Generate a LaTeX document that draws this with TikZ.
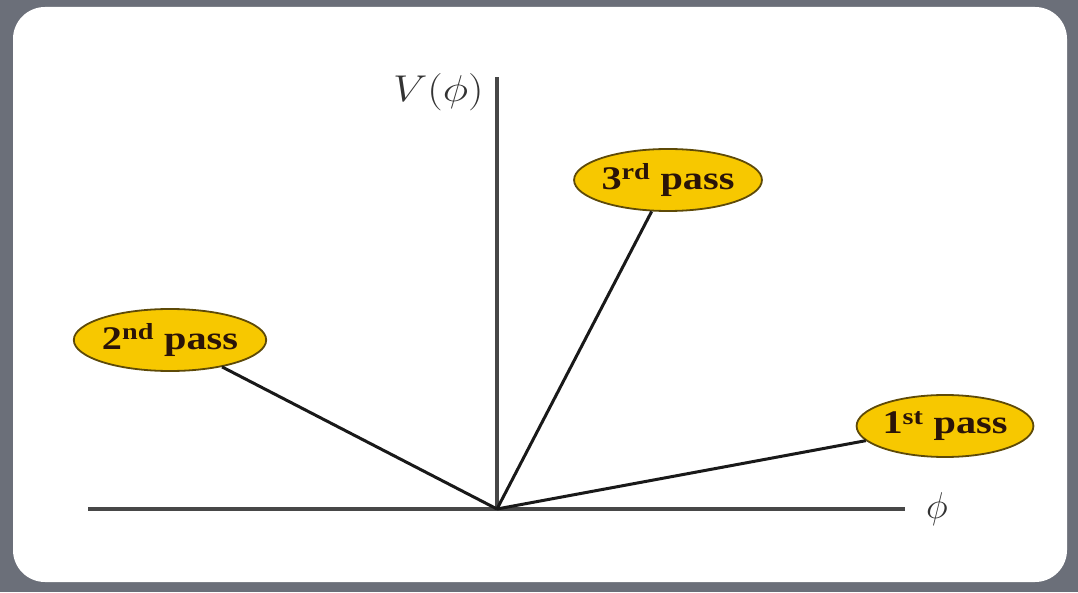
\documentclass[tikz,border=0pt]{standalone}
\usepackage{fontspec}
\setmainfont{Liberation Serif}
\usetikzlibrary{shapes.geometric}
\definecolor{bggray}{HTML}{6B6F79}
\definecolor{passfill}{HTML}{F7C800}
\definecolor{passedge}{HTML}{5E4A08}
\definecolor{passtext}{HTML}{2A1408}
\tikzset{
  pass/.style={ellipse, draw=passedge, line width=1.8pt, fill=passfill, inner sep=0pt,
    minimum width=156pt, minimum height=62pt, text=passtext,
    font=\fontsize{33}{35}\selectfont\bfseries},
  axis/.style={line width=3.4pt, draw=black!72},
  conn/.style={line width=3pt, draw=black!90},
}
\newcommand{\passlabel}[2]{\scalebox{1.22}[1]{#1\textsuperscript{#2} pass}}
\begin{document}
\begin{tikzpicture}[x=1pt,y=1pt]
\fill[bggray] (0,0) rectangle (1078,592);
\useasboundingbox (0,0) rectangle (1078,592);
\fill[white, rounded corners=32pt] (13,10) rectangle (1067,585);
\coordinate (O) at (497,83);
\coordinate (xl) at (88,83);
\coordinate (xr) at (905,83);
\coordinate (yt) at (497,515);
\draw[axis] (xl) -- (xr);
\draw[axis] (O) -- (yt);
\node[anchor=east, font=\fontsize{24.88}{28}\selectfont, text=black!80] (vlab) at (487,500) {\scalebox{1.75}[1.5]{$V(\phi)$}};
\node[font=\fontsize{24.88}{28}\selectfont, text=black!80] (plab) at (937,83) {\scalebox{1.5}{$\phi$}};
\node[pass] (p3) at (668,412) {\passlabel{3}{rd}};
\node[pass] (p2) at (170,252) {\passlabel{2}{nd}};
\node[pass] (p1) at (945,166) {\passlabel{1}{st}};
\draw[conn] (O) -- (p3);
\draw[conn] (O) -- (p2);
\draw[conn] (O) -- (p1);
\end{tikzpicture}
\end{document}
